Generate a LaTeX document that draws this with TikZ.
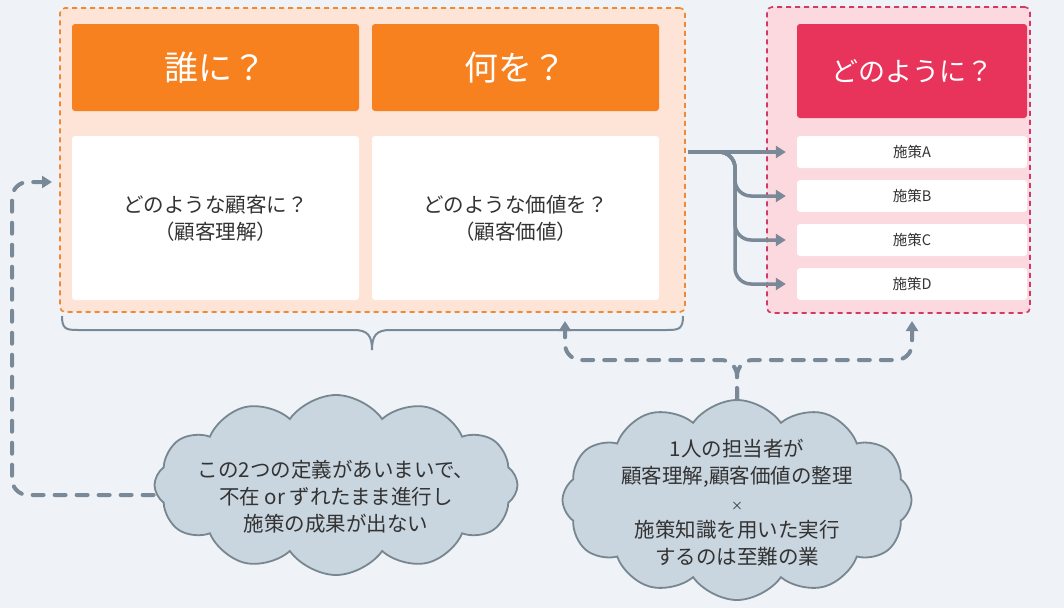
\documentclass[tikz,border=0pt]{standalone}
\usepackage{fontspec}
\setmainfont{Noto Sans CJK JP}
\usetikzlibrary{arrows.meta,shapes.symbols}
\definecolor{bgc}{HTML}{EFF3F7}
\definecolor{ogfill}{HTML}{FDE4D6}
\definecolor{ogline}{HTML}{EE8A35}
\definecolor{ohead}{HTML}{F7801F}
\definecolor{pgfill}{HTML}{FCD8DF}
\definecolor{pgline}{HTML}{D3386A}
\definecolor{phead}{HTML}{E8345B}
\definecolor{conn}{HTML}{7A8998}
\definecolor{cloudfill}{HTML}{C9D5DF}
\definecolor{cloudline}{HTML}{77868F}
\definecolor{txt}{HTML}{333333}
\tikzset{
  grp/.style={rectangle,rounded corners=5pt,line width=1.6pt,dash pattern=on 5pt off 4pt,inner sep=0pt},
  head/.style={rectangle,rounded corners=3pt,inner sep=0pt,text=white},
  wbox/.style={rectangle,rounded corners=3pt,fill=white,inner sep=0pt,text=txt,align=center,
    font=\fontsize{20.5}{27}\selectfont},
  mbox/.style={rectangle,rounded corners=3pt,fill=white,inner sep=0pt,text=txt,minimum width=230pt,minimum height=32pt,
    font=\fontsize{14.5}{16}\selectfont},
  flow/.style={draw=conn,line width=3.5pt,-{Triangle[length=10pt,width=12pt]}},
  dashflow/.style={draw=conn,line width=4pt,line cap=round,dash pattern=on 11pt off 11pt,-{Triangle[length=10pt,width=12pt]}},
  thought/.style={cloud,cloud puffs=12,cloud puff arc=110,cloud ignores aspect,draw=cloudline,line width=1.8pt,fill=cloudfill,
    inner sep=0pt},
  cloudtext/.style={text=txt,align=center,inner sep=0pt,font=\fontsize{20.5}{27}\selectfont},
  bracel/.style={draw=conn,line width=2pt}
}
\begin{document}
\begin{tikzpicture}[x=1pt,y=-1pt]
\useasboundingbox (0,0) rectangle (1064,608);
\fill[bgc] (0,0) rectangle (1064,608);

% groups
\node[grp,draw=ogline,fill=ogfill,minimum width=625pt,minimum height=304pt] (grpO) at (372.5,160) {};
\node[grp,draw=pgline,fill=pgfill,minimum width=263pt,minimum height=306pt] (grpP) at (898.5,160) {};

% headers
\node[head,fill=ohead,minimum width=287pt,minimum height=87pt,font=\fontsize{34}{38}\selectfont] (who) at (215.5,67.5) {誰に？};
\node[head,fill=ohead,minimum width=287pt,minimum height=87pt,font=\fontsize{34}{38}\selectfont] (what) at (515.5,67.5) {何を？};
\node[head,fill=phead,minimum width=230pt,minimum height=94pt,font=\fontsize{27}{30}\selectfont] (how) at (912,71) {どのように？};

% white boxes
\node[wbox,minimum width=287pt,minimum height=164pt] (cust) at (215.5,218) {どのような顧客に？\\（顧客理解）};
\node[wbox,minimum width=287pt,minimum height=164pt] (val) at (515.5,218) {どのような価値を？\\（顧客価値）};

% measures
\node[mbox] (mA) at (912,152) {施策A};
\node[mbox] (mB) at (912,196) {施策B};
\node[mbox] (mC) at (912,240) {施策C};
\node[mbox] (mD) at (912,284) {施策D};

% branching arrows
\coordinate (src) at (688,152);
\coordinate (jn) at (735,152);
\draw[flow] (src) -- ([xshift=-11pt]mA.west);
\draw[flow,rounded corners=16pt] (src) -- (jn) |- ([xshift=-11pt]mB.west);
\draw[flow,rounded corners=16pt] (src) -- (jn) |- ([xshift=-11pt]mC.west);
\draw[flow,rounded corners=16pt] (src) -- (jn) |- ([xshift=-11pt]mD.west);

% brace
\draw[bracel] (62,316) .. controls (62,329) and (66,330) .. (78,330) -- (354,330)
  .. controls (368,330) and (372,336) .. (372,350);
\draw[bracel] (372,350) .. controls (372,336) and (376,330) .. (390,330) -- (667,330)
  .. controls (679,330) and (683,329) .. (683,316);

% clouds
\node[thought,minimum width=363pt,minimum height=180pt] (c1) at (336,485) {};
\node[cloudtext] (t1) at (336,497)
  {この2つの定義があいまいで、\\不在 or~ずれたまま進行し\\施策の成果が出ない};
\node[thought,minimum width=349pt,minimum height=200pt] (c2) at (737,500) {};
\node[cloudtext] (t2) at (737,503)
  {1人の担当者が\\顧客理解,顧客価値の整理\\{\fontsize{12}{27}\selectfont ×}\\施策知識を用いた実行\\するのは至難の業};

% dashed connectors
\coordinate (lt) at (52,182);
\coordinate (upO) at (565,321);
\coordinate (upP) at (912,321);
\draw[dashflow,rounded corners=16pt] ([yshift=-10pt]c1.west) -| (12,250) |- (lt);
\draw[dashflow,rounded corners=16pt] (c2.north) |- (650,360) -| (upO);
\draw[dashflow,rounded corners=16pt] (c2.north) |- (830,360) -| (upP);
\end{tikzpicture}
\end{document}
